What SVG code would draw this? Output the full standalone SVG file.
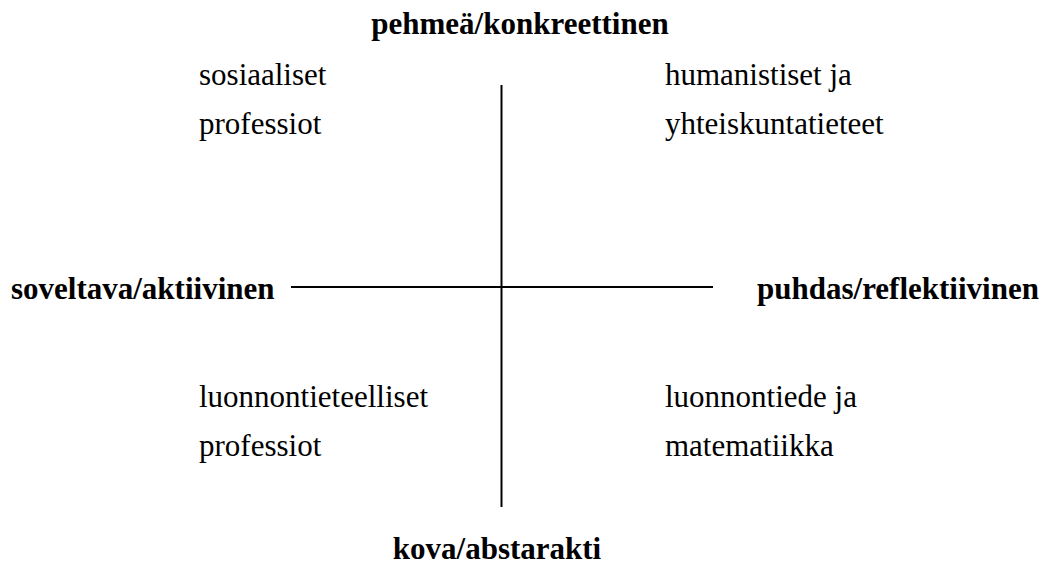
<svg xmlns="http://www.w3.org/2000/svg" width="1049" height="575" viewBox="0 0 1049 575">
<style>
.b{font-family:"Liberation Serif","Times New Roman",serif;font-weight:bold;font-size:31px;fill:#000}
.r{font-family:"Liberation Serif","Times New Roman",serif;font-size:31px;fill:#000}
.ax{stroke:#000;stroke-width:2;fill:none}
</style>
<rect width="1049" height="575" fill="#fff"/>
<g id="connectors">
<line class="ax" x1="291" y1="287" x2="713" y2="287"/>
<line class="ax" x1="501.5" y1="85" x2="501.5" y2="507"/>
</g>
<g id="top"><text class="b" x="520" y="34" text-anchor="middle">pehmeä/konkreettinen</text></g>
<g id="bottom"><text class="b" x="497" y="559" text-anchor="middle">kova/abstarakti</text></g>
<g id="left"><text class="b" x="11" y="299">soveltava/aktiivinen</text></g>
<g id="right"><text class="b" x="757" y="299">puhdas/reflektiivinen</text></g>
<g id="q1"><text class="r" x="199" y="85">sosiaaliset</text><text class="r" x="199" y="134">professiot</text></g>
<g id="q2"><text class="r" x="665" y="85">humanistiset ja</text><text class="r" x="665" y="134">yhteiskuntatieteet</text></g>
<g id="q3"><text class="r" x="199" y="407">luonnontieteelliset</text><text class="r" x="199" y="456">professiot</text></g>
<g id="q4"><text class="r" x="665" y="407">luonnontiede ja</text><text class="r" x="665" y="456">matematiikka</text></g>
</svg>
